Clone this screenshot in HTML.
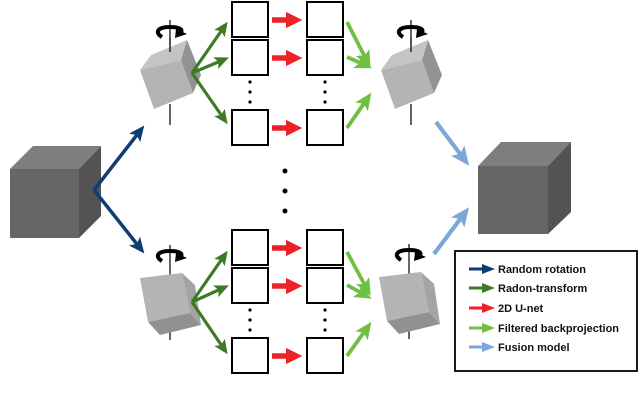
<!DOCTYPE html>
<html><head><meta charset="utf-8"><style>
body{margin:0;background:#fff}
svg{display:block}
text{font-family:"Liberation Sans",sans-serif;font-weight:bold;font-size:11px;fill:#111}
</style></head><body>
<svg width="640" height="400" viewBox="0 0 640 400" xmlns="http://www.w3.org/2000/svg">
<defs>
<marker id="mb" markerWidth="4.5" markerHeight="4" refX="2.5" refY="2" orient="auto" markerUnits="strokeWidth"><path d="M0,0L4.5,2L0,4L1,2Z" fill="#0e3d73"/></marker>
<marker id="mg" markerWidth="4.5" markerHeight="4" refX="2.5" refY="2" orient="auto" markerUnits="strokeWidth"><path d="M0,0L4.5,2L0,4L1,2Z" fill="#3e7a25"/></marker>
<marker id="mr" markerWidth="3" markerHeight="3" refX="1.5" refY="1.5" orient="auto" markerUnits="strokeWidth"><path d="M0,0L3,1.5L0,3Z" fill="#ee2028"/></marker>
<marker id="ml" markerWidth="4.5" markerHeight="4" refX="2.5" refY="2" orient="auto" markerUnits="strokeWidth"><path d="M0,0L4.5,2L0,4L1,2Z" fill="#6fbf43"/></marker>
<marker id="mf" markerWidth="4.5" markerHeight="4" refX="2.5" refY="2" orient="auto" markerUnits="strokeWidth"><path d="M0,0L4.5,2L0,4L1,2Z" fill="#7ba7d9"/></marker>
<g id="rot">
<path d="M162,37 C154,32 158,27 170,27 C180,27 184,30 180,33" fill="none" stroke="#000" stroke-width="4"/>
<path d="M176,29 L187,34 L175,38Z" fill="#000"/>
</g>
<g id="cubeT">
<line x1="170" y1="20" x2="170" y2="52" stroke="#000" stroke-width="1.2"/>
<line x1="170" y1="104" x2="170" y2="125" stroke="#000" stroke-width="1.2"/>
<polygon points="140,70 181,60 193,93 154,109" fill="#b4b4b4"/>
<polygon points="181,60 187,40 201,75 193,93" fill="#939393"/>
<polygon points="140,70 151,55 187,40 181,60" fill="#c4c4c4"/>
<line x1="170" y1="38" x2="170" y2="52" stroke="#000" stroke-width="1.2"/>
<use href="#rot"/>
</g>
</defs>
<!-- left cube -->
<polygon points="10,169 33,146 101,146 79,169" fill="#7e7e7e"/>
<polygon points="79,169 101,146 101,216 79,238" fill="#535353"/>
<rect x="10" y="169" width="69" height="69" fill="#666"/>
<!-- right cube -->
<polygon points="478,166 501,142 571,142 548,166" fill="#7e7e7e"/>
<polygon points="548,166 571,142 571,212 548,234" fill="#535353"/>
<rect x="478" y="166" width="70" height="68" fill="#666"/>
<!-- blue -->
<line x1="94" y1="190" x2="140" y2="131" stroke="#0e3d73" stroke-width="3.5" marker-end="url(#mb)"/>
<line x1="94" y1="190" x2="140" y2="248" stroke="#0e3d73" stroke-width="3.5" marker-end="url(#mb)"/>
<!-- small cubes -->
<use href="#cubeT"/>
<use href="#cubeT" transform="translate(241,0)"/>
<g id="cubeB">
<line x1="170" y1="245" x2="170" y2="275" stroke="#000" stroke-width="1.2"/>
<line x1="170" y1="318" x2="170" y2="340" stroke="#000" stroke-width="1.2"/>
<polygon points="140,278 182,273 190,313 148,322" fill="#b4b4b4"/>
<polygon points="182,273 195,285 201,325 190,313" fill="#a4a4a4"/>
<polygon points="148,322 190,313 201,325 160,335" fill="#919191"/>
<use href="#rot" transform="translate(0,224)"/>
</g>
<use href="#cubeB" transform="translate(239,-1)"/>
<!-- boxes -->
<g fill="#fff" stroke="#000" stroke-width="2">
<rect x="232" y="2" width="36" height="35"/><rect x="232" y="40" width="36" height="35"/><rect x="232" y="110" width="36" height="35"/>
<rect x="307" y="2" width="36" height="35"/><rect x="307" y="40" width="36" height="35"/><rect x="307" y="110" width="36" height="35"/>
<rect x="232" y="230" width="36" height="35"/><rect x="232" y="268" width="36" height="35"/><rect x="232" y="338" width="36" height="35"/>
<rect x="307" y="230" width="36" height="35"/><rect x="307" y="268" width="36" height="35"/><rect x="307" y="338" width="36" height="35"/>
</g>
<g fill="#000">
<circle cx="250" cy="82" r="1.6"/><circle cx="250" cy="92" r="1.6"/><circle cx="250" cy="102" r="1.6"/>
<circle cx="325" cy="82" r="1.6"/><circle cx="325" cy="92" r="1.6"/><circle cx="325" cy="102" r="1.6"/>
<circle cx="250" cy="310" r="1.6"/><circle cx="250" cy="320" r="1.6"/><circle cx="250" cy="330" r="1.6"/>
<circle cx="325" cy="310" r="1.6"/><circle cx="325" cy="320" r="1.6"/><circle cx="325" cy="330" r="1.6"/>
<circle cx="285" cy="171" r="2.5"/><circle cx="285" cy="191" r="2.5"/><circle cx="285" cy="211" r="2.5"/>
</g>
<!-- green -->
<g stroke="#3e7a25" stroke-width="3.2" fill="none">
<line x1="192" y1="73" x2="224" y2="27" marker-end="url(#mg)"/>
<line x1="192" y1="73" x2="223" y2="60" marker-end="url(#mg)"/>
<line x1="192" y1="73" x2="224" y2="119" marker-end="url(#mg)"/>
<line x1="192" y1="302" x2="224" y2="256" marker-end="url(#mg)"/>
<line x1="192" y1="302" x2="223" y2="288" marker-end="url(#mg)"/>
<line x1="192" y1="302" x2="224" y2="349" marker-end="url(#mg)"/>
</g>
<!-- red -->
<g stroke="#ee2028" stroke-width="5.5">
<line x1="272" y1="20" x2="294" y2="20" marker-end="url(#mr)"/>
<line x1="272" y1="58" x2="294" y2="58" marker-end="url(#mr)"/>
<line x1="272" y1="128" x2="294" y2="128" marker-end="url(#mr)"/>
<line x1="272" y1="248" x2="294" y2="248" marker-end="url(#mr)"/>
<line x1="272" y1="286" x2="294" y2="286" marker-end="url(#mr)"/>
<line x1="272" y1="356" x2="294" y2="356" marker-end="url(#mr)"/>
</g>
<!-- light green -->
<g stroke="#6fbf43" stroke-width="3.8">
<line x1="347" y1="22" x2="367" y2="61" marker-end="url(#ml)"/>
<line x1="347" y1="57" x2="365" y2="65" marker-end="url(#ml)"/>
<line x1="347" y1="128" x2="367" y2="99" marker-end="url(#ml)"/>
<line x1="347" y1="252" x2="367" y2="289" marker-end="url(#ml)"/>
<line x1="347" y1="285" x2="365" y2="295" marker-end="url(#ml)"/>
<line x1="347" y1="356" x2="367" y2="328" marker-end="url(#ml)"/>
</g>
<!-- light blue -->
<g stroke="#7ba7d9" stroke-width="4.2">
<line x1="436" y1="122" x2="464" y2="159" marker-end="url(#mf)"/>
<line x1="434" y1="254" x2="464" y2="214" marker-end="url(#mf)"/>
</g>
<!-- legend -->
<rect x="455" y="251" width="182" height="120" fill="#fff" stroke="#000" stroke-width="1.8"/>
<g>
<path d="M469,267.5H482V264L495,269L482,274V270.5H469Z" fill="#0e3d73"/>
<path d="M469,286.5H482V283L495,288L482,293V289.5H469Z" fill="#3e7a25"/>
<path d="M469,306.5H482V303L495,308L482,313V309.5H469Z" fill="#ee2028"/>
<path d="M469,326.5H482V323L495,328L482,333V329.5H469Z" fill="#6fbf43"/>
<path d="M469,345.5H482V342L495,347L482,352V348.5H469Z" fill="#7ba7d9"/>
</g>
<text x="498" y="273">Random rotation</text>
<text x="498" y="292">Radon-transform</text>
<text x="498" y="312">2D U-net</text>
<text x="498" y="332">Filtered backprojection</text>
<text x="498" y="351">Fusion model</text>
</svg>
</body></html>
